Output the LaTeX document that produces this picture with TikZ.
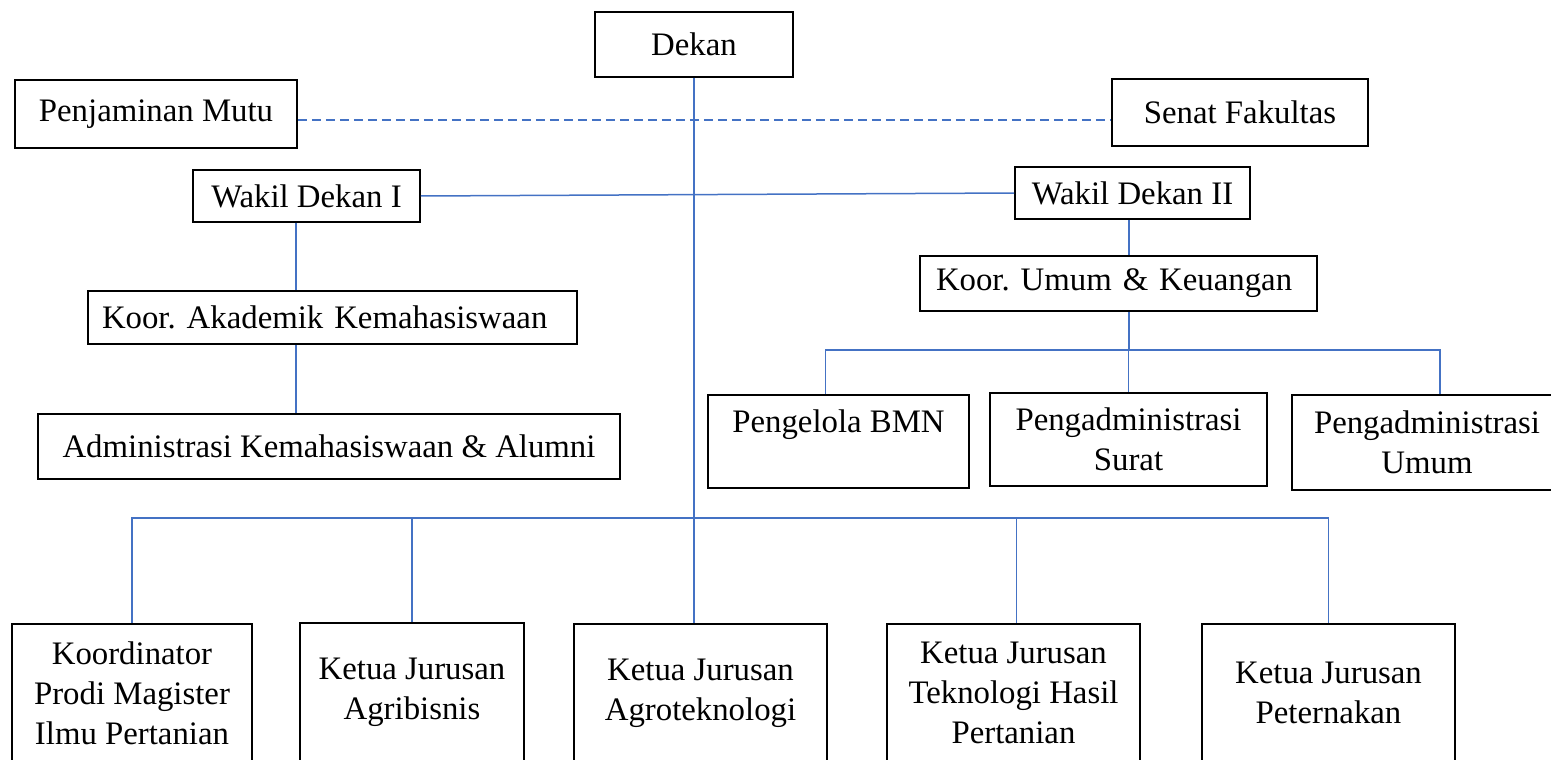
\documentclass[tikz,border=0pt]{standalone}
\usepackage{fontspec}
\setmainfont{Liberation Serif}
\usetikzlibrary{calc}
\definecolor{lineblue}{RGB}{68,114,196}
\begin{document}
\begin{tikzpicture}[x=1pt,y=-1pt,
  box/.style={draw=black,line width=1.6pt,rectangle,inner sep=0pt,align=center,
    font=\fontsize{32.8}{40}\selectfont},
  lbox/.style={box,align=left},
  conn/.style={draw=lineblue,line width=1.5pt},
  dconn/.style={draw=lineblue,line width=1.5pt,dash pattern=on 9pt off 5pt}]
\useasboundingbox (0,0) rectangle (1551,760);
% top level
\node[box,minimum width=198pt,minimum height=65pt] (dekan) at (694,44.5) {Dekan};
\node[box,minimum width=282pt,minimum height=68pt] (pm) at (156,114) {Penjaminan Mutu};
\node[box,minimum width=256pt,minimum height=67pt] (sf) at (1240,112.5) {Senat Fakultas};
\node[box,minimum width=227pt,minimum height=52pt] (wd1) at (306.5,196) {Wakil Dekan I};
\node[box,minimum width=235pt,minimum height=52pt] (wd2) at (1132.5,193) {Wakil Dekan II};
% left branch
\node[lbox,minimum width=489pt,minimum height=53pt,inner xsep=14pt,text width=461pt] (ka) at (332.5,317.5) {Koor.\ Akademik Kemahasiswaan};
\node[box,minimum width=582pt,minimum height=65pt] (adm) at (329,446.5) {Administrasi Kemahasiswaan \& Alumni};
% right branch
\node[lbox,minimum width=397pt,minimum height=55pt,inner xsep=16pt,text width=365pt] (ku) at (1118.5,283.5) {Koor.\ Umum \& Keuangan};
\node[box,minimum width=261pt,minimum height=93pt] (bmn) at (838.5,441.5) {Pengelola BMN\\\mbox{}};
\node[box,minimum width=277pt,minimum height=93pt] (surat) at (1128.5,439.5) {Pengadministrasi\\Surat};
\node[box,minimum width=270pt,minimum height=95pt] (pu) at (1427,442.5) {Pengadministrasi\\Umum};
% bottom row
\node[box,minimum width=240pt,minimum height=138pt] (kpm) at (132,693) {Koordinator\\Prodi Magister\\Ilmu Pertanian};
\node[box,minimum width=224pt,minimum height=138pt] (agri) at (412,692) {Ketua Jurusan\\Agribisnis};
\node[box,minimum width=253pt,minimum height=138pt] (agro) at (700.5,693) {Ketua Jurusan\\Agroteknologi};
\node[box,minimum width=253pt,minimum height=138pt] (thp) at (1013.5,693) {Ketua Jurusan\\Teknologi Hasil\\Pertanian};
\node[box,minimum width=253pt,minimum height=138pt] (pet) at (1328.5,693) {Ketua Jurusan\\Peternakan};
% helper coordinates
\coordinate (dashy) at (0,120);
\coordinate (lx) at (296,0);
\coordinate (rx) at (1129,0);
\coordinate (rbus) at (0,350);
\coordinate (bbus) at (0,518);
% connectors
\draw[dconn] (pm.east |- dashy) -- (sf.west |- dashy);
\draw[conn] (dekan.south) -- (dekan.south |- agro.north);
\draw[conn] (wd1.east) -- (wd2.west);
\draw[conn] (lx |- wd1.south) -- (lx |- ka.north);
\draw[conn] (lx |- ka.south) -- (lx |- adm.north);
\draw[conn] (rx |- wd2.south) -- (rx |- ku.north);
\draw[conn] (rx |- ku.south) -- (rx |- rbus);
\draw[conn] ([xshift=-13pt]bmn.north) -- ([xshift=-13pt]bmn.north |- rbus) -- ([xshift=13pt]pu.north |- rbus) -- ([xshift=13pt]pu.north);
\draw[conn] (surat.north) -- (surat.north |- rbus);
\draw[conn] (kpm.north) -- (kpm.north |- bbus) -- (pet.north |- bbus) -- (pet.north);
\draw[conn] (agri.north) -- (agri.north |- bbus);
\draw[conn] ([xshift=3pt]thp.north) -- ([xshift=3pt]thp.north |- bbus);
\end{tikzpicture}
\end{document}
